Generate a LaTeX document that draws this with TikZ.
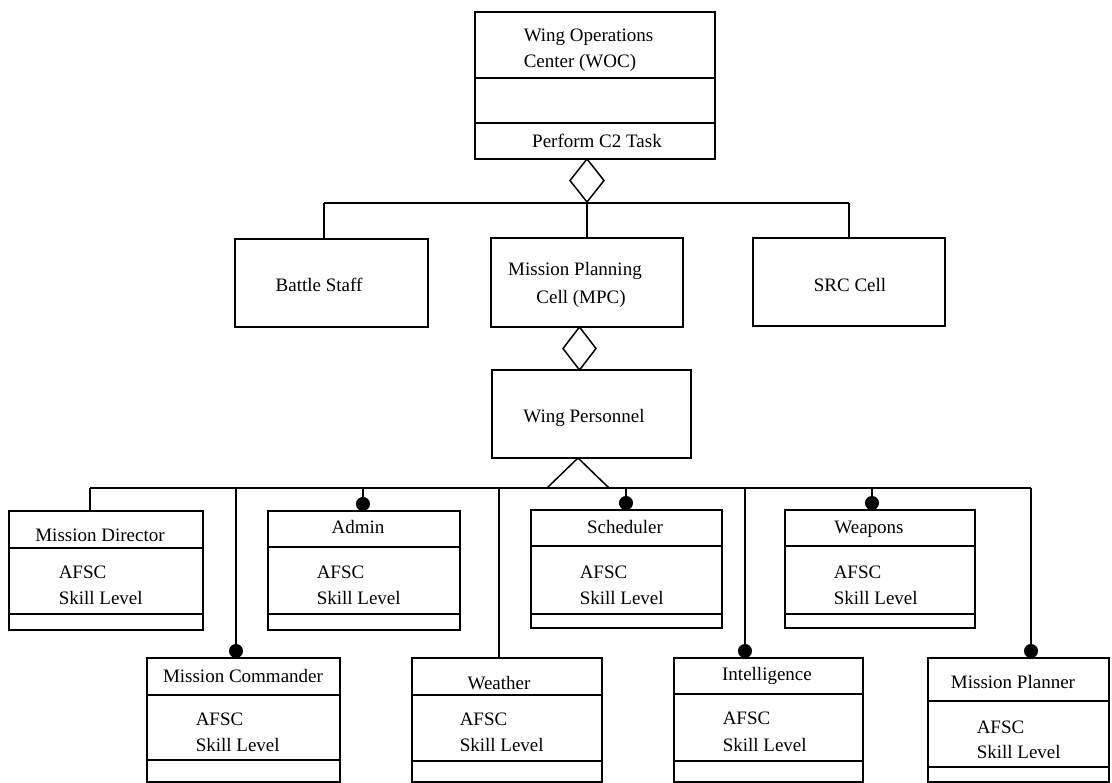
\documentclass[tikz,border=0pt]{standalone}
\usepackage{fontspec}
\setmainfont{Liberation Serif}
\usetikzlibrary{arrows.meta,fit,shapes.geometric}

% three-compartment class box: name, left, top, right, bottom, divider 1, divider 2
\newcommand\classbox[7]{%
  \node[box, fit={(#2,#3) (#4,#5)}] (#1) {};
  \draw (#1.west |- 0,#6) -- (#1.east |- 0,#6);
  \draw (#1.west |- 0,#7) -- (#1.east |- 0,#7);
}

\begin{document}
\begin{tikzpicture}[x=1pt, y=-1pt, line width=1.5pt,
  box/.style={draw, rectangle, inner sep=0pt, outer sep=0pt},
  agg/.style={draw, diamond, inner sep=0pt, outer sep=0pt, minimum width=34pt, minimum height=43pt},
  lbl/.style={inner sep=0pt, anchor=base, font=\fontsize{19}{23}\selectfont},
  lblw/.style={lbl, anchor=base west},
  dotlink/.style={-{Circle[length=14pt,width=14pt]}},
]
\useasboundingbox (0,0) rectangle (1112,783);

% ---------- Wing Operations Center ----------
\classbox{woc}{475}{12}{715}{159}{78}{123}
\node[lblw] (wocA) at (523,42) {Wing Operations};
\node[lblw] (wocB) at (523,68) {Center (WOC)};
\node[lbl]  (wocC) at (597,148) {Perform C2 Task};

\node[agg, anchor=north] (dA) at (587,159) {};

% ---------- second level ----------
\node[box, fit={(235,239) (428,327)}] (bs) {};
\node[lbl] (bsT) at (319,292) {Battle Staff};
\node[box, fit={(491,238) (683,327)}] (mpc) {};
\node[lbl] (mpcA) at (575,276) {Mission Planning};
\node[lbl] (mpcB) at (581,304) {Cell (MPC)};
\node[box, fit={(753,238) (945,326)}] (src) {};
\node[lbl] (srcT) at (850,292) {SRC Cell};

\coordinate (busAL) at (324,203);
\coordinate (busAR) at (849,203);
\draw (busAL) -- (busAR);
\draw (busAL) -- (busAL |- bs.north);
\draw (busAR) -- (busAR |- src.north);
\draw (dA.south) -- (dA.south |- mpc.north);

\node[agg, anchor=north, minimum width=33pt] (dB) at (579.5,327) {};

% ---------- Wing Personnel ----------
\node[box, fit={(492,370) (691,458)}] (wp) {};
\node[lbl] (wpT) at (584,423) {Wing Personnel};

\coordinate (gen) at (578,458);
\draw (gen) -- ++(-31,30) -- ++(62,0) -- cycle;

% ---------- personnel classes ----------
\classbox{md}{9}{511}{203}{630}{548}{614}
\node[lbl]  (mdT) at (100,542) {Mission Director};
\node[lblw] (mdA) at (58,578) {AFSC};
\node[lblw] (mdS) at (58,605) {Skill Level};

\classbox{adm}{268}{511}{460}{630}{547}{614}
\node[lbl]  (admT) at (358,533) {Admin};
\node[lblw] (admA) at (316,578) {AFSC};
\node[lblw] (admS) at (316,605) {Skill Level};

\classbox{sch}{531}{510}{722}{628}{546}{614}
\node[lbl]  (schT) at (625,533) {Scheduler};
\node[lblw] (schA) at (579,578) {AFSC};
\node[lblw] (schS) at (579,605) {Skill Level};

\classbox{wpn}{785}{510}{975}{628}{546}{614}
\node[lbl]  (wpnT) at (869,533) {Weapons};
\node[lblw] (wpnA) at (833,578) {AFSC};
\node[lblw] (wpnS) at (833,604) {Skill Level};

\classbox{mc}{147}{658}{340}{782}{695}{760}
\node[lbl]  (mcT) at (243,682) {Mission Commander};
\node[lblw] (mcA) at (195,725) {AFSC};
\node[lblw] (mcS) at (195,751) {Skill Level};

\classbox{wx}{412}{658}{602}{782}{695}{761}
\node[lbl]  (wxT) at (499,689) {Weather};
\node[lblw] (wxA) at (459,725) {AFSC};
\node[lblw] (wxS) at (459,751) {Skill Level};

\classbox{intl}{674}{658}{863}{782}{694}{761}
\node[lbl]  (intlT) at (767,680) {Intelligence};
\node[lblw] (intlA) at (722,724) {AFSC};
\node[lblw] (intlS) at (722,751) {Skill Level};

\classbox{mp}{928}{658}{1109}{782}{701}{767}
\node[lbl]  (mpT) at (1013,688) {Mission Planner};
\node[lblw] (mpA) at (976,733) {AFSC};
\node[lblw] (mpS) at (976,758) {Skill Level};

% ---------- bus from Wing Personnel ----------
\coordinate (tapMD)  at (90,488);
\coordinate (tapMC)  at (236,488);
\coordinate (tapADM) at (363,488);
\coordinate (tapWX)  at (499,488);
\coordinate (tapSCH) at (626,488);
\coordinate (tapINT) at (745,488);
\coordinate (tapWPN) at (872,488);
\coordinate (tapMP)  at (1031,488);
\draw (tapMD) -- (tapMP);
\draw (tapMD) -- (tapMD |- md.north);
\draw (tapWX) -- (tapWX |- wx.north);
\draw[dotlink] (tapMC)  -- (tapMC |- mc.north);
\draw[dotlink] (tapADM) -- (tapADM |- adm.north);
\draw[dotlink] (tapSCH) -- (tapSCH |- sch.north);
\draw[dotlink] (tapINT) -- (tapINT |- intl.north);
\draw[dotlink] (tapWPN) -- (tapWPN |- wpn.north);
\draw[dotlink] (tapMP)  -- (tapMP |- mp.north);
\end{tikzpicture}
\end{document}
